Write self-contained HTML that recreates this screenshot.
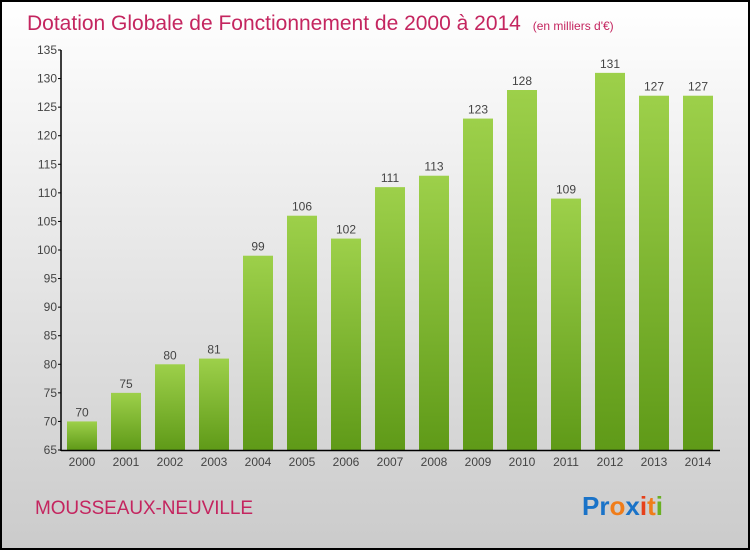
<!DOCTYPE html>
<html><head><meta charset="utf-8"><style>
html,body{margin:0;padding:0}
body{width:750px;height:550px;overflow:hidden;font-family:"Liberation Sans",sans-serif}
</style></head><body>
<svg id="c" width="750" height="550" xmlns="http://www.w3.org/2000/svg">
<defs>
<linearGradient id="bg" x1="0" y1="0" x2="0" y2="1"><stop offset="0" stop-color="#ffffff"/><stop offset="1" stop-color="#cbcbcb"/></linearGradient>
<linearGradient id="bar" x1="0" y1="0" x2="0" y2="1"><stop offset="0" stop-color="#9dd04a"/><stop offset="1" stop-color="#5f9a18"/></linearGradient>
</defs>
<rect x="1" y="1" width="748" height="548" fill="url(#bg)" stroke="#000" stroke-width="2"/>
<text x="27" y="30" font-size="21" fill="#c4255f">Dotation Globale de Fonctionnement de 2000 à 2014 <tspan font-size="12" dx="6">(en milliers d'€)</tspan></text>
<g id="bars"></g>
<g id="axes"></g>
<text x="35" y="514" font-size="19" fill="#c4255f" textLength="218">MOUSSEAUX-NEUVILLE</text>
<text x="582" y="515" font-size="26" font-weight="bold"><tspan fill="#1a73c8">Pr</tspan><tspan fill="#f07d1a">o</tspan><tspan fill="#1a73c8">x</tspan><tspan fill="#e6401a">i</tspan><tspan fill="#f07d1a">t</tspan><tspan fill="#6ab023">i</tspan></text>
</svg>
<script>
const years=["2000","2001","2002","2003","2004","2005","2006","2007","2008","2009","2010","2011","2012","2013","2014"];
const values=[70,75,80,81,99,106,102,111,113,123,128,109,131,127,127];
const yTicks=[65,70,75,80,85,90,95,100,105,110,115,120,125,130,135];
const NS="http://www.w3.org/2000/svg";
const y=v=>450-(v-65)*400/70;
const x=i=>82+i*44;
function mk(t,a,p){const e=document.createElementNS(NS,t);for(const k in a)e.setAttribute(k,a[k]);p.appendChild(e);return e;}
const B=document.getElementById('bars'),A=document.getElementById('axes');
values.forEach((v,i)=>{
 const r=mk('rect',{x:x(i)-15,y:y(v),width:30,height:450-y(v),fill:'url(#bar)'},B);
 
 
 const t=mk('text',{x:x(i),y:y(v)-5,'font-size':12,'text-anchor':'middle',fill:'#444'},B);t.textContent=v;
 
 
 const l=mk('text',{x:x(i),y:466,'font-size':12,'text-anchor':'middle',fill:'#444'},A);l.textContent=years[i];
 
 
});
yTicks.forEach(v=>{
 mk('line',{x1:58,x2:61,y1:y(v),y2:y(v),stroke:'#000'},A);
 const t=mk('text',{x:57,y:y(v)+4,'font-size':12,'text-anchor':'end',fill:'#444'},A);t.textContent=v;
 
 
});
const ya=mk('line',{x1:61,x2:61,y1:50,y2:451,stroke:'#000','stroke-width':1.5},A);


const xa=mk('line',{x1:61,x2:720,y1:450.5,y2:450.5,stroke:'#000','stroke-width':1.5},A);


</script>
</body></html>
